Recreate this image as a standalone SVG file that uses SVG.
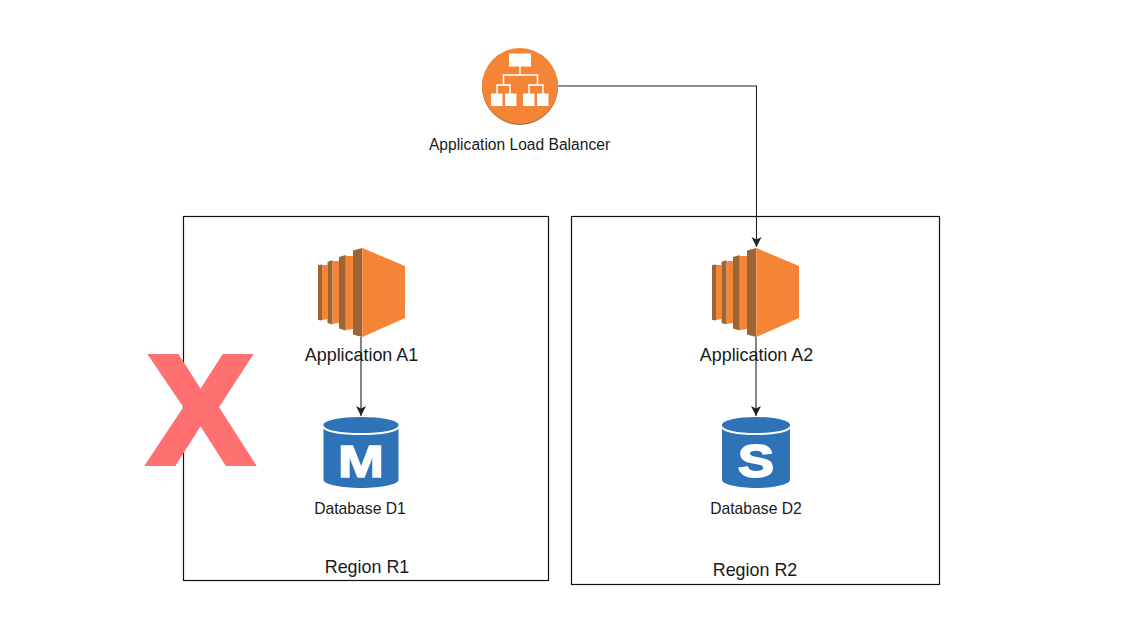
<svg xmlns="http://www.w3.org/2000/svg" width="1140" height="622" viewBox="0 0 1140 622">
<style>
.lbl{font-family:"Liberation Sans",Arial,sans-serif;fill:#1a1a1a;text-anchor:middle}
.region{fill:#fff;stroke:#111;stroke-width:1.2}
.conn{fill:none;stroke:#222;stroke-width:1.1}
.dark{fill:#9d6436}.org{fill:#f58536}.blue{fill:#2e73b8}
.w{fill:#fff}
.wl{fill:none;stroke:#fff;stroke-width:1.500}
.glyph{font-family:"Liberation Sans",Arial,sans-serif;font-weight:700;fill:#fff;stroke:#fff;text-anchor:middle}
</style>
<defs>
<marker id="arrow" markerUnits="userSpaceOnUse" markerWidth="12" markerHeight="12" refX="10" refY="5" orient="auto"><path d="M0 0L10 5L0 10L2.500 5Z" fill="#222"/></marker>
<g id="ec2">
<path class="org" d="M-40 -27H-34.500V27L-40 28Z"/><path class="dark" d="M-44 -27L-40 -27.500V28.500L-44 28Z"/>
<path class="org" d="M-29.700 -31H-23V31L-29.700 32Z"/><path class="dark" d="M-34.500 -30L-29.700 -32V32.500L-34.500 31Z"/>
<path class="org" d="M-16.300 -36H-9V37L-16.300 38Z"/><path class="dark" d="M-23 -35L-16.300 -37V38.500L-23 36.500Z"/>
<path class="dark" d="M-9 -41.500L0.300 -44V45L-9 42.500Z"/>
<path class="org" d="M0.300 -44L43 -26V26L0.300 45Z"/>
</g>
<g id="db">
<path class="blue" d="M0 8V63C0 67 17 71 37.500 71S75 67 75 63V8Z"/>
<path d="M0 9.500C0 14 17 17 37.500 17S75 14 75 9.500" fill="none" stroke="#fff" stroke-width="2"/>
<ellipse class="blue" cx="37.500" cy="7.500" rx="37.500" ry="7.500"/>
</g>
</defs>
<rect width="1140" height="622" fill="#fff"/>
<g id="region-r1"><rect class="region" x="183.500" y="216.500" width="365" height="364"/><text class="lbl" x="367" y="572.500" font-size="17.900">Region R1</text></g>
<g id="region-r2"><rect class="region" x="571.500" y="216.500" width="368" height="368"/><text class="lbl" x="755" y="575.500" font-size="17.900">Region R2</text></g>
<g id="connectors">
<path class="conn" d="M558 86H756.500V247" marker-end="url(#arrow)"/>
<path class="conn" d="M361 337V416" marker-end="url(#arrow)"/>
<path class="conn" d="M756 337V416" marker-end="url(#arrow)"/>
</g>
<g id="load-balancer">
<circle cx="520" cy="87" r="38" fill="#9d6436"/>
<circle class="org" cx="520" cy="86" r="38"/>
<rect class="w" x="509" y="53.500" width="22" height="13"/>
<path class="wl" d="M520 66V75M503.500 85V75H537.500V85M497 94V85H510V94M529 94V85H543V94"/>
<rect class="w" x="491" y="93.500" width="11.500" height="12.500"/><rect class="w" x="505" y="93.500" width="11.500" height="12.500"/><rect class="w" x="523" y="93.500" width="11.500" height="12.500"/><rect class="w" x="537" y="93.500" width="11.500" height="12.500"/>
<text class="lbl" x="519.500" y="149.500" font-size="15.600">Application Load Balancer</text>
</g>
<g id="application-a1"><use href="#ec2" x="362" y="292"/><text class="lbl" x="361.500" y="361" font-size="17.900">Application A1</text></g>
<g id="application-a2"><use href="#ec2" x="756" y="292"/><text class="lbl" x="756.500" y="361" font-size="17.900">Application A2</text></g>
<g id="database-d1"><use href="#db" x="323.500" y="417"/><text class="glyph" x="361" y="477" font-size="45" stroke-width="1.500" textLength="46" lengthAdjust="spacingAndGlyphs">M</text><text class="lbl" x="360" y="513.500" font-size="15.700">Database D1</text></g>
<g id="database-d2"><use href="#db" transform="translate(722 417) scale(.907 1)"/><text class="glyph" x="756" y="477" font-size="46" stroke-width="1.800" textLength="36" lengthAdjust="spacingAndGlyphs">S</text><text class="lbl" x="756" y="513.500" font-size="15.700">Database D2</text></g>
<g id="failure-x"><text x="148.500" y="463" font-family="'Liberation Sans',Arial,sans-serif" font-weight="700" font-size="154" fill="#ff7070" stroke="#ff7070" stroke-width="6" stroke-linejoin="miter" textLength="104" lengthAdjust="spacingAndGlyphs">X</text></g>
</svg>
